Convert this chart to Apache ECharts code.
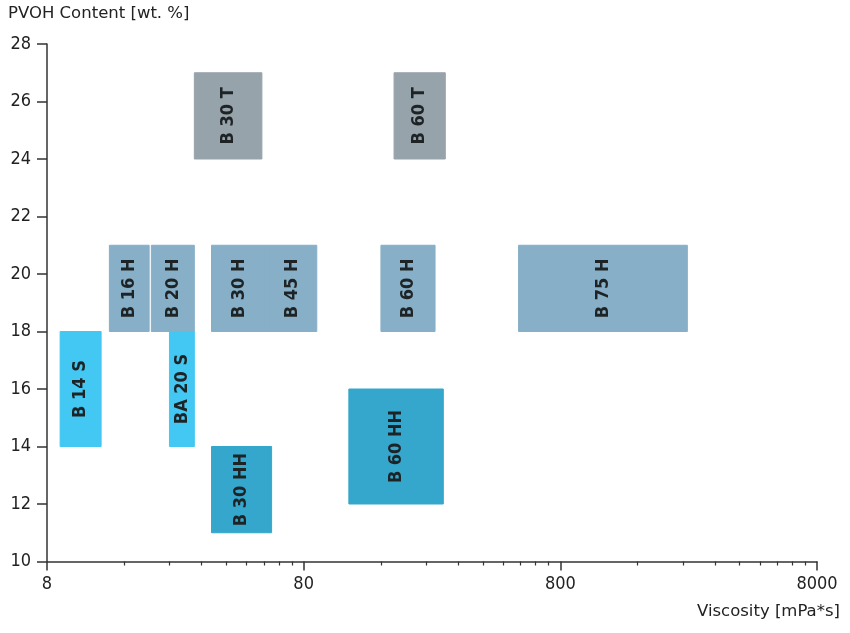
<!DOCTYPE html>
<html>
<head>
<meta charset="utf-8">
<script src="https://cdn.jsdelivr.net/npm/echarts@6/dist/echarts.min.js"></script>
<style>
html,body{margin:0;padding:0;background:#fff;}
#chart{width:850px;height:633px;}
</style>
</head>
<body>
<div id="chart"></div>
<script>
// Product grades: viscosity range [mPa*s] and PVOH content range [wt. %]
const products  = ['B 14 S', 'B 16 H', 'B 20 H', 'BA 20 S', 'B 30 T', 'B 30 H', 'B 45 H', 'B 30 HH', 'B 60 HH', 'B 60 T', 'B 60 H', 'B 75 H'];
const gradeType = ['S',      'H',      'H',      'S',       'T',      'H',      'H',      'HH',      'HH',      'T',      'H',      'H'];
const viscMin   = [9,        14,       20.4,     24,        30,       35,       58,       35,        120,       180,      160,      550];
const viscMax   = [13,       20,       30,       30,        55,       58,       90,       60,        280,       285,      260,      2500];
const pvohMin   = [14,       18,       18,       14,        24,       18,       18,       11,        12,        24,       18,       18];
const pvohMax   = [18,       21,       21,       18,        27,       21,       21,       14,        16,        27,       21,       21];

// Axis ticks
const xMajorLabels = [8, 80, 800, 8000];
const xMinorFactors = [2, 3, 4, 5, 6, 7, 8, 9];
const yMin = 10, yMax = 28, yStep = 2;

const typeColors = { S: '#42c8f2', H: '#87afc7', T: '#97a3ab', HH: '#35a7cc' };
const FONT = '"DejaVu Sans Condensed", "DejaVu Sans", sans-serif';
const FONT_TITLE = '"DejaVu Sans", sans-serif';

const decades = Math.log10(xMajorLabels[xMajorLabels.length - 1] / xMajorLabels[0]);
const minorTicks = [];
for (let n = 0; n < decades; n++) {
  xMinorFactors.forEach(k => minorTicks.push(n + Math.log10(k)));
}

const data = products.map((p, i) => [viscMin[i], viscMax[i], pvohMin[i], pvohMax[i], p, gradeType[i]]);

const axisColor = '#333';
const chart = echarts.init(document.getElementById('chart'), null, { renderer: 'canvas' });

chart.setOption({
  animation: false,
  backgroundColor: '#fff',
  textStyle: { fontFamily: FONT },
  grid: { left: 47, right: 33, top: 44, bottom: 71.5, containLabel: false },
  xAxis: [
    {
      type: 'log', logBase: 10, min: xMajorLabels[0], max: xMajorLabels[xMajorLabels.length - 1],
      axisLine: { show: true, lineStyle: { color: axisColor, width: 1.5 } },
      axisTick: { show: false }, axisLabel: { show: false }, splitLine: { show: false }
    },
    {
      type: 'value', min: 0, max: decades, interval: 1, position: 'bottom',
      axisLine: { show: false },
      axisTick: { show: true, inside: false, length: 9, lineStyle: { color: axisColor, width: 1.5 } },
      axisLabel: {
        show: true, margin: 14, color: '#222', fontSize: 18, fontFamily: FONT,
        formatter: v => String(Math.round(xMajorLabels[0] * Math.pow(10, v)))
      },
      splitLine: { show: false }
    },
    {
      type: 'value', min: 0, max: decades, position: 'bottom',
      axisLine: { show: false },
      axisTick: { show: true, inside: false, length: 4, customValues: minorTicks, lineStyle: { color: axisColor, width: 1.2 } },
      axisLabel: { show: false },
      splitLine: { show: false }
    }
  ],
  yAxis: {
    type: 'value', min: yMin, max: yMax, interval: yStep,
    axisLine: { show: true, lineStyle: { color: axisColor, width: 1.5 } },
    axisTick: { show: true, inside: false, length: 10, lineStyle: { color: axisColor, width: 1.5 } },
    axisLabel: { margin: 16, color: '#222', fontSize: 18, fontFamily: FONT },
    splitLine: { show: false }
  },
  graphic: [
    { type: 'text', left: 8, top: 5, style: { text: 'PVOH Content [wt. %]', fill: '#222', font: '16.5px ' + FONT_TITLE } },
    { type: 'text', right: 10, top: 603, style: { text: 'Viscosity [mPa*s]', fill: '#222', font: '16.5px ' + FONT_TITLE } }
  ],
  series: [{
    type: 'custom',
    xAxisIndex: 0,
    yAxisIndex: 0,
    data: data,
    encode: { x: [0, 1], y: [2, 3] },
    renderItem: function (params, api) {
      const p0 = api.coord([api.value(0), api.value(3)]);
      const p1 = api.coord([api.value(1), api.value(2)]);
      const idx = params.dataIndex;
      const fill = typeColors[gradeType[idx]];
      const x = p0[0], y = p0[1], w = p1[0] - p0[0], h = p1[1] - p0[1];
      return {
        type: 'group',
        children: [
          { type: 'rect', shape: { x: x, y: y, width: w, height: h }, style: { fill: fill, stroke: fill, lineWidth: 1 } },
          {
            type: 'text', x: x + w / 2, y: y + h / 2, rotation: Math.PI / 2,
            style: { text: products[idx], align: 'center', verticalAlign: 'middle', fill: '#1e2326',
                     font: 'bold 18px ' + FONT }
          }
        ]
      };
    }
  }]
});
</script>
</body>
</html>
